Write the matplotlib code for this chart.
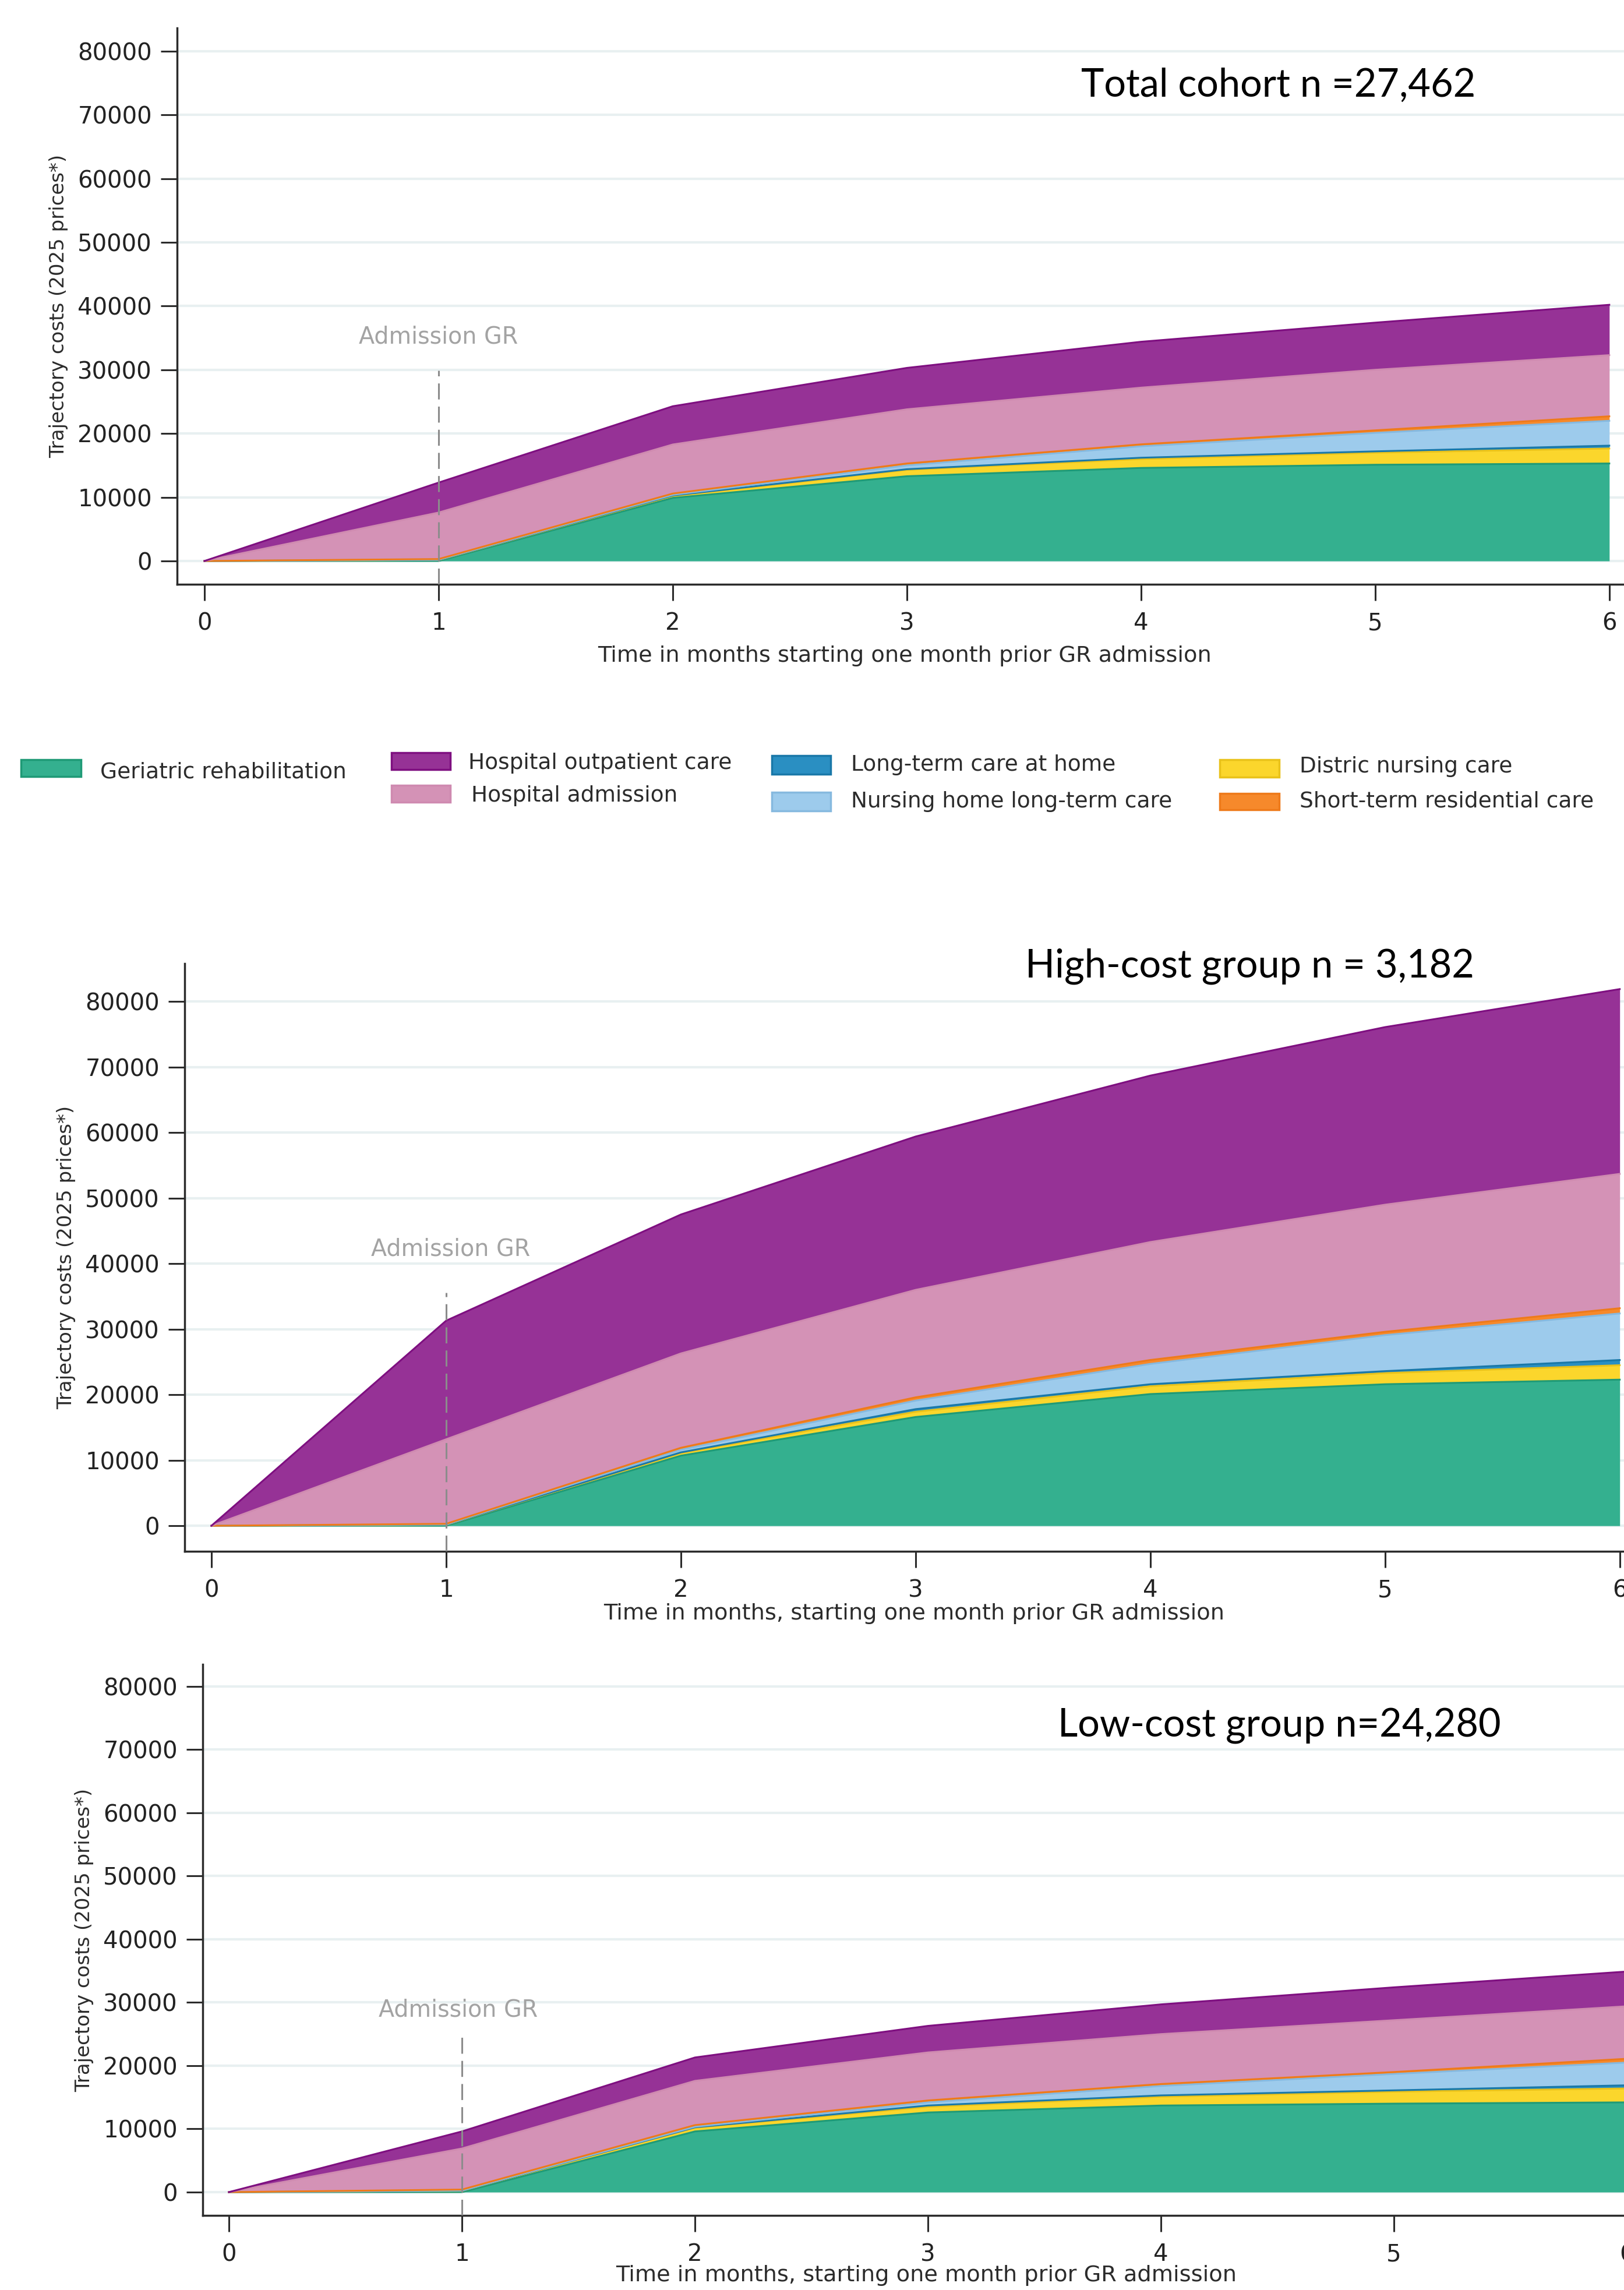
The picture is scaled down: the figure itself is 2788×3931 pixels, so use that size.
import numpy as np
import matplotlib
matplotlib.use('Agg')
import matplotlib.pyplot as plt
from matplotlib.patches import Rectangle

# months since one month before GR admission
months = [0, 1, 2, 3, 4, 5, 6]

# cost components, bottom to top of the stack
categories = ['Geriatric rehabilitation', 'Distric nursing care', 'Long-term care at home',
              'Nursing home long-term care', 'Short-term residential care',
              'Hospital admission', 'Hospital outpatient care']

# total cohort
total_geriatric = [0, 0, 9900, 13300, 14600, 15100, 15300]
total_district = [0, 150, 300, 1000, 1400, 1900, 2350]
total_ltc_home = [0, 30, 80, 100, 200, 200, 450]
total_nursing_home = [0, 20, 100, 600, 1800, 2900, 3900]
total_short_term = [0, 100, 200, 300, 300, 400, 700]
total_hosp_adm = [0, 7300, 7700, 8500, 8900, 9500, 9600]
total_outpatient = [0, 4700, 6000, 6500, 7200, 7400, 7900]

# high-cost group
high_geriatric = [0, 0, 10700, 16600, 20100, 21600, 22300]
high_district = [0, 150, 400, 800, 1200, 1700, 2200]
high_ltc_home = [0, 30, 100, 400, 300, 300, 800]
high_nursing_home = [0, 20, 400, 1300, 3100, 5500, 7100]
high_short_term = [0, 100, 300, 500, 600, 500, 800]
high_hosp_adm = [0, 12900, 14400, 16400, 18000, 19400, 20500]
high_outpatient = [0, 18100, 21200, 23400, 25400, 27100, 28200]

# low-cost group
low_geriatric = [0, 0, 9600, 12600, 13700, 14000, 14200]
low_district = [0, 200, 600, 900, 1400, 1900, 2200]
low_ltc_home = [0, 30, 50, 200, 200, 200, 500]
low_nursing_home = [0, 20, 100, 500, 1500, 2600, 3600]
low_short_term = [0, 150, 250, 300, 300, 300, 600]
low_hosp_adm = [0, 6500, 7000, 7600, 7900, 8200, 8300]
low_outpatient = [0, 2700, 3700, 4200, 4700, 5200, 5500]

titles = ['Total cohort n =27,462', 'High-cost group n = 3,182', 'Low-cost group n=24,280']
xlabels = ['Time in months starting one month prior GR admission',
           'Time in months, starting one month prior GR admission',
           'Time in months, starting one month prior GR admission']

fills = ['#34b08f', '#fbd62c', '#2a8fc2', '#9dcbec', '#f6892b', '#d492b6', '#963296']
edges = ['#1f9a76', '#e9c21a', '#1a78a8', '#86b9df', '#ee7a1a', '#cf8ab0', '#7e0f80']

W, H = 2788, 3931
fig = plt.figure(figsize=(W / 100, H / 100), dpi=100)


def pos(left, right, top, bottom):
    return [left / W, 1 - bottom / H, (right - left) / W, (bottom - top) / H]


# layout per panel: axes box in pixels, xlim, ylim, title centre, admission label, dash top
panels = [
    dict(box=(304, 2803, 48, 1003), xlim=(-0.117, 6.1), ylim=(-3660, 83640),
         title=(2195, 147), adm=(1.0, 35100), dash=29900, xlab_y=-0.129,
         data=[total_geriatric, total_district, total_ltc_home, total_nursing_home,
               total_short_term, total_hosp_adm, total_outpatient]),
    dict(box=(317, 2821, 1654, 2663), xlim=(-0.114, 6.1), ylim=(-3900, 85800),
         title=(2145, 1659), adm=(1.02, 42200), dash=35600, xlab_y=-0.106,
         data=[high_geriatric, high_district, high_ltc_home, high_nursing_home,
               high_short_term, high_hosp_adm, high_outpatient]),
    dict(box=(348, 2833, 2857, 3803), xlim=(-0.1125, 6.1), ylim=(-3690, 83500),
         title=(2196, 2963), adm=(0.985, 28760), dash=24500, xlab_y=-0.109,
         data=[low_geriatric, low_district, low_ltc_home, low_nursing_home,
               low_short_term, low_hosp_adm, low_outpatient]),
]

for i, p in enumerate(panels):
    ax = fig.add_axes(pos(*p['box']))
    stack = np.cumsum(np.array(p['data'], dtype=float), axis=0)
    base = np.zeros(len(months))
    for k in range(len(categories)):
        ax.fill_between(months, base, stack[k], color=fills[k], lw=0, zorder=2)
        ax.plot(months, stack[k], color=edges[k], lw=2.2, zorder=3)
        base = stack[k]

    ax.set_xlim(*p['xlim'])
    ax.set_ylim(*p['ylim'])
    ax.set_xticks(months)
    ax.set_yticks(range(0, 80001, 10000))
    ax.yaxis.grid(True, color='#e8f0f1', lw=3)
    ax.set_axisbelow(True)
    for s in ['top', 'right']:
        ax.spines[s].set_visible(False)
    for s in ['left', 'bottom']:
        ax.spines[s].set_linewidth(2.5)
        ax.spines[s].set_color('#2b2b2b')
    ax.tick_params(length=20, width=2.2, color='#2b2b2b', labelsize=29, labelcolor='#222222')
    ax.tick_params(axis='x', pad=14)
    ax.tick_params(axis='y', pad=11)
    ax.set_ylabel('Trajectory costs (2025 prices*)', fontsize=24.5, color='#2b2b2b', labelpad=12)
    ax.set_xlabel(xlabels[i], fontsize=27.5, color='#2b2b2b', va='center')
    ax.xaxis.set_label_coords(0.5, p['xlab_y'])

    # admission marker
    ax.vlines(1, p['ylim'][0], p['dash'], colors='#8c8c8c', lw=2.2,
              linestyles=(0, (9, 4)), zorder=4)
    ax.text(p['adm'][0], p['adm'][1], 'Admission GR', ha='center', va='center',
            fontsize=28.5, color='#a3a3a3', zorder=4)

    tx, ty = p['title']
    fig.text(tx / W, 1 - ty / H, titles[i], ha='center', va='center',
             fontsize=48, family='Lato', color='black')

# legend, drawn by hand between first and second panel
legend_items = [
    ('Geriatric rehabilitation', 0, (36, 1304, 139, 1333), (172, 1326)),
    ('Hospital outpatient care', 6, (672, 1292, 773, 1321), (804, 1310)),
    ('Hospital admission', 5, (672, 1348, 773, 1377), (809, 1366)),
    ('Long-term care at home', 2, (1325, 1297, 1426, 1329), (1461, 1313)),
    ('Nursing home long-term care', 3, (1325, 1360, 1426, 1392), (1461, 1376)),
    ('Distric nursing care', 1, (2094, 1304, 2196, 1334), (2231, 1316)),
    ('Short-term residential care', 4, (2094, 1362, 2196, 1390), (2231, 1376)),
]
for name, k, (x0, y0, x1, y1), (lx, ly) in legend_items:
    fig.patches.append(Rectangle((x0 / W, 1 - y1 / H), (x1 - x0) / W, (y1 - y0) / H,
                                 transform=fig.transFigure, facecolor=fills[k],
                                 edgecolor=edges[k], lw=2.5))
    fig.text(lx / W, 1 - ly / H, name, ha='left', va='center', fontsize=27, color='#2b2b2b')

fig.savefig('out.png', dpi=100)
